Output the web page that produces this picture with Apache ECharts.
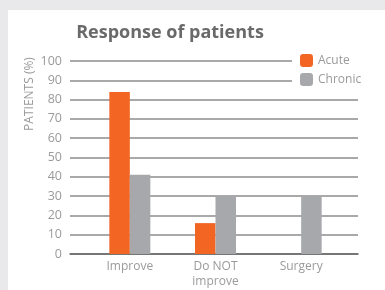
<!DOCTYPE html>
<html><head><meta charset="utf-8">
<script src="https://cdn.jsdelivr.net/npm/echarts@6/dist/echarts.min.js"></script>
<style>html,body{margin:0;padding:0;background:#fff}#c{width:385px;height:290px}</style>
</head><body><div id="c"></div>
<script>
const categories = ['Improve', 'Do NOT\nimprove', 'Surgery'];
const acute = [84, 16, 0];
const chronic = [41, 30, 30];
const yTicks = [0, 100, 10];

const chart = echarts.init(document.getElementById('c'), null, {renderer: 'canvas'});
const font = '"Open Sans", sans-serif';
chart.setOption({
  animation: false,
  backgroundColor: '#e9e9ec',
  graphic: [
    {type: 'rect', left: 8, top: 10, shape: {width: 377, height: 280}, style: {fill: '#fff'}, z: -10},
    {type: 'text', x: 30, y: 94, rotation: Math.PI / 2, style: {text: 'PATIENTS (%)', fill: '#9a9a9a', font: '12px ' + font, align: 'center', verticalAlign: 'middle'}}
  ],
  title: {
    text: 'Response of patients', left: 165, top: 19, textAlign: 'center',
    textStyle: {fontFamily: font, fontWeight: 'bold', fontSize: 18, color: '#6a6a6a'}
  },
  legend: {
    orient: 'vertical', left: 292, top: 50, padding: [4, 8, 4, 8],
    backgroundColor: '#fff', itemWidth: 13, itemHeight: 13, itemGap: 6,
    textStyle: {fontFamily: font, fontSize: 12, color: '#9a9a9a'},
    data: ['Acute', 'Chronic']
  },
  grid: [
    {left: 70, right: 27, top: 61, bottom: 36},
    {left: 87, right: 41, top: 61, bottom: 36}
  ],
  xAxis: [
    {type: 'category', gridIndex: 0, data: categories, axisLabel: {show: false}, axisTick: {show: false},
     axisLine: {lineStyle: {color: '#666', width: 1.5}}},
    {type: 'category', gridIndex: 1, data: categories, axisTick: {show: false}, axisLine: {show: false},
     axisLabel: {fontFamily: font, fontSize: 12, color: '#9a9a9a', margin: 5, lineHeight: 15}}
  ],
  yAxis: [
    {type: 'value', gridIndex: 0, min: yTicks[0], max: yTicks[1], interval: yTicks[2],
     axisLine: {show: false}, axisTick: {show: false},
     axisLabel: {fontFamily: font, fontSize: 12.5, color: '#9a9a9a', margin: 8},
     splitLine: {lineStyle: {color: '#8c8c8c', width: 1.5}}},
    {type: 'value', gridIndex: 1, min: yTicks[0], max: yTicks[1], interval: yTicks[2], show: false}
  ],
  series: [
    {name: 'Acute', type: 'bar', xAxisIndex: 1, yAxisIndex: 1, data: acute, barWidth: 20.5, barGap: '0%',
     itemStyle: {color: '#f26522'}},
    {name: 'Chronic', type: 'bar', xAxisIndex: 1, yAxisIndex: 1, data: chronic, barWidth: 20.5, barGap: '0%',
     itemStyle: {color: '#a7a8ab'}}
  ]
});
</script></body></html>
